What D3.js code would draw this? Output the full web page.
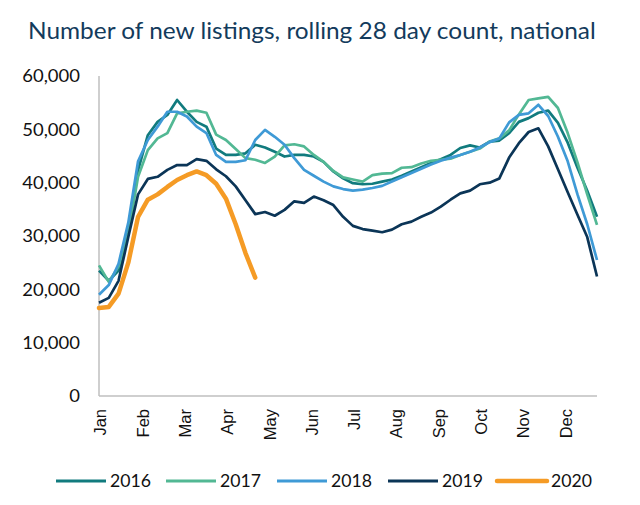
<!DOCTYPE html>
<html>
<head>
<meta charset="utf-8">
<script src="https://cdn.jsdelivr.net/npm/d3@7/dist/d3.min.js"></script>
<style>
  html, body { margin: 0; padding: 0; background: #fff; }
  svg { display: block; }
</style>
</head>
<body>
<svg id="chart" width="640" height="505"></svg>
<script>
const title = "Number of new listings, rolling 28 day count, national";
const months = ["Jan","Feb","Mar","Apr","May","Jun","Jul","Aug","Sep","Oct","Nov","Dec"];
const yTicks = [0, 10000, 20000, 30000, 40000, 50000, 60000];
const seriesNames = ["2016","2017","2018","2019","2020"];

const s2016 = [23500,21600,23500,31000,42300,48900,51400,52700,55500,53300,51400,50500,46400,45200,45200,45500,47100,46600,45800,44900,45200,45200,44900,43900,42100,40800,39900,39700,39800,40200,40600,41300,42100,42900,43700,44400,45200,46500,47000,46600,47700,47900,49300,51400,52100,53100,53500,51200,47500,42800,38500,33600];
const s2017 = [24500,21400,24300,30500,41100,46100,48300,49300,53000,53300,53500,53100,49000,48000,46300,44600,44300,43700,44900,47000,47200,46800,45200,43900,42200,41000,40600,40200,41400,41700,41800,42800,42900,43600,44100,44300,44500,45200,45800,46400,47700,48300,49800,52800,55500,55800,56100,54000,49300,43800,37800,32100];
const s2018 = [19000,20800,24800,32500,44000,48000,50500,53300,53300,52400,50500,49300,45200,43900,43900,44200,48000,49900,48600,47100,44600,42400,41300,40200,39300,38800,38500,38700,39000,39400,40200,41000,41800,42600,43400,44100,44700,45200,45800,46600,47600,48300,51300,52700,53000,54600,52500,48600,44000,37800,32200,25500];
const s2019 = [17500,18400,21600,29800,37800,40700,41100,42400,43300,43300,44400,44100,42500,41200,39300,36700,34100,34500,33800,34900,36500,36200,37400,36700,35800,33600,31900,31300,31000,30700,31200,32200,32700,33600,34400,35500,36800,38000,38500,39700,40000,40800,44700,47400,49500,50200,46800,42500,38200,34000,29800,22400];
const s2020 = [16500,16700,19200,25000,33600,36800,37800,39200,40500,41400,42100,41400,39800,37000,32200,26800,22200];

const seriesValues = [s2016, s2017, s2018, s2019, s2020];
const colors = ["#117b7e", "#52b894", "#3f9ad6", "#0b3557", "#f59b25"];
const widths = [2.7, 2.7, 2.7, 2.7, 4.5];

const svg = d3.select("#chart");
const nWeeks = 52;
const x = d3.scaleLinear().domain([0, nWeeks - 1]).range([99, 597]);
const y = d3.scaleLinear().domain([0, 60000]).range([396, 76]);

const textFont = "Lato, 'Open Sans', sans-serif";
const titleColor = "#133b5c";

function fitWidth(node, target, anchorX, anchorY) {
  const len = node.getComputedTextLength();
  const k = target / len;
  d3.select(node).attr("transform", `translate(${anchorX},${anchorY}) scale(${k},1)`);
  return k;
}

// Title
const t = svg.append("text")
  .attr("x", 0).attr("y", 0)
  .attr("font-family", textFont)
  .attr("font-size", 23.5)
  .attr("fill", titleColor)
  .text(title);
fitWidth(t.node(), 568, 28, 39);

// Y axis labels
const yAxis = d3.axisLeft(y).tickValues(yTicks).tickSize(0).tickPadding(0).tickFormat(d3.format(","));
const yg = svg.append("g").attr("transform", "translate(80,0)").call(yAxis);
yg.select(".domain").remove();
yg.selectAll(".tick text")
  .attr("font-family", textFont)
  .attr("font-size", 16.5)
  .attr("fill", "#111")
  .attr("x", 0)
  .attr("dy", "0.36em")
  .attr("text-anchor", "end")
  .attr("transform", "scale(1.12,1)");

// axis lines
svg.append("line").attr("x1", 99).attr("x2", 99).attr("y1", 76).attr("y2", 396)
  .attr("stroke", "#bfbfbf").attr("stroke-width", 1.5);
svg.append("line").attr("x1", 99).attr("x2", 597).attr("y1", 396).attr("y2", 396)
  .attr("stroke", "#bfbfbf").attr("stroke-width", 1.5);

// X axis labels
const monthPos = months.map((m, i) => i * nWeeks / 12);
const xAxis = d3.axisBottom(x).tickValues(monthPos).tickSize(0).tickFormat((d, i) => months[i]);
const xg = svg.append("g").attr("transform", "translate(0,396)").call(xAxis);
xg.select(".domain").remove();
xg.selectAll(".tick text")
  .attr("font-family", "'Liberation Sans', Arial, sans-serif")
  .attr("font-size", 16.5)
  .attr("fill", "#111")
  .attr("text-anchor", "end")
  .attr("transform", "translate(1,13) rotate(-90)")
  .attr("x", 0).attr("y", 0).attr("dy", "0.35em");

// Lines
const line = d3.line().x((d, i) => x(i)).y(d => y(d));
seriesValues.forEach((vals, k) => {
  svg.append("path")
    .datum(vals)
    .attr("fill", "none")
    .attr("stroke", colors[k])
    .attr("stroke-width", widths[k])
    .attr("stroke-linejoin", "round")
    .attr("stroke-linecap", k === 4 ? "round" : "butt")
    .attr("d", line);
});

// Legend
const legendX = [56, 166, 277, 388, 497];
const lg = svg.append("g");
seriesNames.forEach((name, k) => {
  lg.append("line")
    .attr("x1", legendX[k]).attr("x2", legendX[k] + 50)
    .attr("y1", 481).attr("y2", 481)
    .attr("stroke", colors[k]).attr("stroke-width", k === 4 ? 4.5 : 3)
    .attr("stroke-linecap", k === 4 ? "round" : "butt");
  const tx = lg.append("text")
    .attr("font-family", textFont)
    .attr("font-size", 18)
    .attr("fill", "#111")
    .attr("dy", "0.36em")
    .text(name);
  fitWidth(tx.node(), 41, legendX[k] + 54, 481);
});
</script>
</body>
</html>
